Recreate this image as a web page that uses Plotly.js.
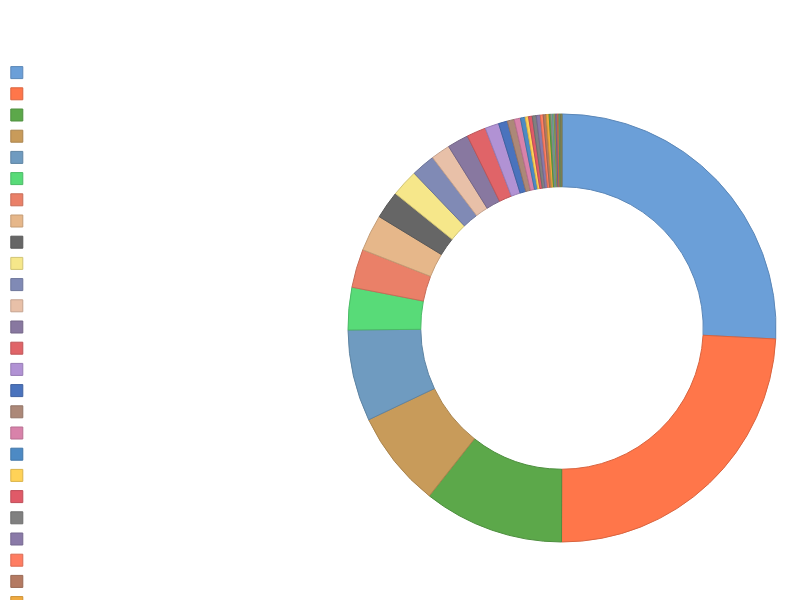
<!DOCTYPE html>
<html>
<head>
<meta charset="utf-8">
<script src="https://cdn.plot.ly/plotly-3.0.1.min.js"></script>
<style>html,body{margin:0;padding:0;background:#fff;}#chart{width:800px;height:600px;}</style>
</head>
<body>
<div id="chart"></div>
<script>
// Slice values (share of total)
var sliceValues = [25.8, 24.2, 10.6, 7.3, 6.9, 3.2, 2.9, 2.75, 2.1, 2.05, 1.8, 1.45, 1.6, 1.45, 1.05,
  0.67, 0.53, 0.47, 0.36, 0.25, 0.28, 0.3, 0.3, 0.22, 0.22, 0.22,
  0.13, 0.12, 0.12, 0.12, 0.12, 0.12, 0.12, 0.11];
// Slice labels: the reference legend shows no visible label text (distinct zero-width labels)
var sliceLabels = sliceValues.map(function (v, i) { return '\u200b'.repeat(i + 1); });
var sliceColors = ['#6b9fd8', '#ff764a', '#5ca84a', '#c89b5a', '#6f9bc0', '#58db78', '#ea8068', '#e6b78a',
  '#666666', '#f6e78a', '#808ab5', '#e8c0a8', '#8878a0', '#e06468', '#b192d4', '#4a73bd', '#ac8878',
  '#d882aa', '#4d8ac4', '#ffd257', '#e05a68', '#808080', '#8a7aa8', '#ff7d62', '#b47a62', '#f0aa40',
  '#5aa84a', '#9a9a9a', '#70b0a0', '#a0a050', '#8a6aa0', '#e07850', '#60a070', '#8c8c5a'];

function darker(hex) {
  var r = parseInt(hex.substr(1, 2), 16), g = parseInt(hex.substr(3, 2), 16), b = parseInt(hex.substr(5, 2), 16);
  return 'rgb(' + Math.round(r * 0.85) + ',' + Math.round(g * 0.85) + ',' + Math.round(b * 0.85) + ')';
}

var trace = {
  type: 'pie',
  labels: sliceLabels,
  values: sliceValues,
  hole: 0.66,
  sort: false,
  direction: 'clockwise',
  rotation: 0,
  textinfo: 'none',
  hoverinfo: 'value+percent',
  domain: {x: [0.435, 0.97], y: [0, 1]},
  marker: {
    colors: sliceColors,
    line: {color: sliceColors.map(darker), width: 1}
  }
};

var layout = {
  width: 800,
  height: 600,
  margin: {l: 0, r: 0, t: 114, b: 58, autoexpand: false},
  paper_bgcolor: '#ffffff',
  showlegend: true,
  legend: {
    xref: 'paper', yref: 'container',
    x: -0.004, y: 0.905, xanchor: 'left', yanchor: 'top',
    font: {size: 14, family: 'Open Sans, sans-serif'},
    bgcolor: 'rgba(0,0,0,0)',
    traceorder: 'normal',
    maxheight: 2000
  }
};

Plotly.newPlot('chart', [trace], layout, {displayModeBar: false, staticPlot: true});
</script>
</body>
</html>
